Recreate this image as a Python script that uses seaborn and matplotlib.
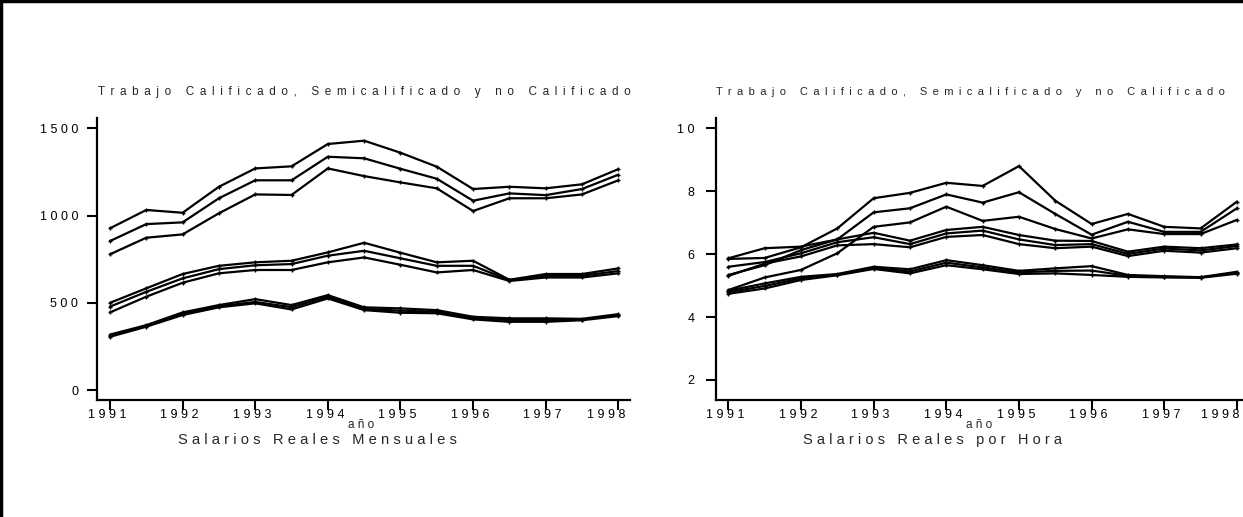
import numpy as np
import pandas as pd
import matplotlib
matplotlib.use("Agg")
import matplotlib.pyplot as plt
import matplotlib.transforms as mtransforms
from matplotlib.lines import Line2D
import seaborn as sns

# Semiannual observations, 1991 to 1998
anios = [1991.0, 1991.5, 1992.0, 1992.5, 1993.0, 1993.5, 1994.0, 1994.5,
         1995.0, 1995.5, 1996.0, 1996.5, 1997.0, 1997.5, 1998.0]

# Monthly real wages (nine series: three per skill level)
mens_calif_1 = [927, 1032, 1016, 1165, 1270, 1282, 1410, 1429, 1360, 1280, 1152, 1165, 1156, 1179, 1266]
mens_calif_2 = [854, 951, 961, 1099, 1202, 1202, 1337, 1328, 1268, 1211, 1085, 1127, 1117, 1152, 1234]
mens_calif_3 = [778, 873, 892, 1013, 1121, 1118, 1270, 1226, 1190, 1156, 1026, 1099, 1099, 1121, 1202]
mens_semi_1 = [500, 583, 665, 712, 732, 741, 789, 844, 787, 732, 741, 632, 665, 665, 697]
mens_semi_2 = [478, 563, 640, 693, 715, 722, 770, 798, 755, 712, 712, 630, 655, 655, 682]
mens_semi_3 = [445, 535, 615, 669, 688, 688, 732, 760, 718, 674, 688, 625, 645, 645, 669]
mens_nocal_1 = [318, 372, 445, 487, 521, 487, 544, 474, 468, 458, 420, 411, 411, 408, 435]
mens_nocal_2 = [312, 367, 437, 480, 505, 475, 535, 465, 455, 449, 412, 401, 401, 404, 429]
mens_nocal_3 = [305, 363, 430, 474, 497, 462, 525, 458, 443, 440, 405, 391, 391, 400, 424]

# Hourly real wages
hora_calif_1 = [5.85, 5.88, 6.22, 6.82, 7.78, 7.95, 8.27, 8.17, 8.80, 7.70, 6.96, 7.28, 6.87, 6.82, 7.67]
hora_calif_2 = [5.34, 5.65, 6.13, 6.47, 7.33, 7.46, 7.90, 7.64, 7.97, 7.28, 6.62, 7.03, 6.71, 6.71, 7.46]
hora_calif_3 = [4.86, 5.26, 5.50, 6.03, 6.87, 7.01, 7.51, 7.06, 7.19, 6.80, 6.50, 6.79, 6.64, 6.64, 7.09]
hora_semi_1 = [5.87, 6.19, 6.24, 6.47, 6.68, 6.43, 6.77, 6.87, 6.61, 6.43, 6.42, 6.08, 6.24, 6.19, 6.31]
hora_semi_2 = [5.60, 5.75, 6.03, 6.38, 6.54, 6.32, 6.66, 6.75, 6.47, 6.29, 6.32, 6.01, 6.18, 6.12, 6.26]
hora_semi_3 = [5.31, 5.70, 5.93, 6.28, 6.32, 6.22, 6.55, 6.61, 6.32, 6.19, 6.24, 5.94, 6.11, 6.05, 6.19]
hora_nocal_1 = [4.84, 5.07, 5.28, 5.37, 5.60, 5.52, 5.81, 5.65, 5.47, 5.55, 5.62, 5.34, 5.30, 5.27, 5.44]
hora_nocal_2 = [4.79, 4.99, 5.23, 5.35, 5.56, 5.45, 5.73, 5.58, 5.42, 5.47, 5.48, 5.31, 5.28, 5.26, 5.41]
hora_nocal_3 = [4.74, 4.91, 5.18, 5.33, 5.53, 5.39, 5.65, 5.52, 5.37, 5.39, 5.34, 5.28, 5.26, 5.25, 5.38]

x_ticks = [1991, 1992, 1993, 1994, 1995, 1996, 1997, 1998]
y_ticks_mens = [0, 500, 1000, 1500]
y_ticks_hora = [2, 4, 6, 8, 10]

titulo = "Trabajo Calificado, Semicalificado y no Calificado"
etiqueta_x = "año"
subtitulo_mens = "Salarios Reales Mensuales"
subtitulo_hora = "Salarios Reales por Hora"


def espaciar(texto, sep=" "):
    """Spread letters apart, the way the old graph engine prints them."""
    return sep.join(texto)


def largo(series):
    frames = []
    for nombre, valores in series.items():
        frames.append(pd.DataFrame({"anio": anios, "valor": valores, "serie": nombre}))
    return pd.concat(frames, ignore_index=True)


df_mens = largo({
    "c1": mens_calif_1, "c2": mens_calif_2, "c3": mens_calif_3,
    "s1": mens_semi_1, "s2": mens_semi_2, "s3": mens_semi_3,
    "n1": mens_nocal_1, "n2": mens_nocal_2, "n3": mens_nocal_3,
})
df_hora = largo({
    "c1": hora_calif_1, "c2": hora_calif_2, "c3": hora_calif_3,
    "s1": hora_semi_1, "s2": hora_semi_2, "s3": hora_semi_3,
    "n1": hora_nocal_1, "n2": hora_nocal_2, "n3": hora_nocal_3,
})

sns.set_theme(style="white")
plt.rcParams["font.family"] = ["Liberation Sans", "DejaVu Sans"]

W, H = 1243, 517
fig = plt.figure(figsize=(W / 100, H / 100), dpi=100)
fig.patch.set_facecolor("white")


def px_axes(x0, x1, y_top, y_bot):
    return fig.add_axes([x0 / W, 1 - y_bot / H, (x1 - x0) / W, (y_bot - y_top) / H])


ax1 = px_axes(97, 630, 118, 400)
ax2 = px_axes(716, 1250, 118, 400)

for ax, df, yt, ylim, xlim, ypad, last_shift in [
    (ax1, df_mens, y_ticks_mens, (-57, 1559), (1990.821, 1998.161), 6, -12),
    (ax2, df_hora, y_ticks_hora, (1.364, 10.33), (1990.83, 1998.18), 8, -17),
]:
    sns.lineplot(data=df, x="anio", y="valor", units="serie", estimator=None,
                 color="black", linewidth=1.6, marker="+", markersize=3.5,
                 markeredgewidth=1.0, markeredgecolor="black", ax=ax,
                 legend=False)
    ax.set_xlim(*xlim)
    ax.set_ylim(*ylim)
    ax.set_xticks(x_ticks)
    ax.set_xticklabels([espaciar(str(t)) for t in x_ticks])
    ax.set_yticks(yt)
    ax.set_yticklabels([espaciar(str(t)) for t in yt])
    ax.set_xlabel("")
    ax.set_ylabel("")
    for s in ["top", "right"]:
        ax.spines[s].set_visible(False)
    for s in ["left", "bottom"]:
        ax.spines[s].set_visible(True)
        ax.spines[s].set_color("black")
        ax.spines[s].set_linewidth(1.6)
    ax.tick_params(axis="both", which="major", direction="out", length=7.5,
                   width=1.5, color="black", labelsize=9, labelcolor="black",
                   left=True, bottom=True)
    ax.tick_params(axis="x", pad=-1)
    ax.tick_params(axis="y", pad=ypad)
    ax.set_facecolor("white")
    ax.grid(False)
    # year labels sit a little left of their ticks; the last one is pushed in
    labels = ax.get_xticklabels()
    for i, lab in enumerate(labels):
        dx = last_shift if i == len(labels) - 1 else -3
        lab.set_transform(lab.get_transform() +
                          mtransforms.ScaledTranslation(dx / 100, 0, fig.dpi_scale_trans))

# Panel titles and captions
sep_titulo = " \u2009"
fig.text(98 / W, 1 - 92 / H, espaciar(titulo, sep_titulo), ha="left", va="center", fontsize=8.5)
fig.text(716 / W, 1 - 92 / H, espaciar(titulo, sep_titulo), ha="left", va="center", fontsize=8.0)
fig.text(361 / W, 1 - 425 / H, espaciar(etiqueta_x), ha="center", va="center", fontsize=8.5)
fig.text(979 / W, 1 - 425 / H, espaciar(etiqueta_x), ha="center", va="center", fontsize=8.5)
fig.text(317 / W, 1 - 440 / H, espaciar(subtitulo_mens), ha="center", va="center", fontsize=10.6)
fig.text(933 / W, 1 - 440 / H, espaciar(subtitulo_hora), ha="center", va="center", fontsize=10.5)

# Frame along the top and left edges of the figure
fig.add_artist(Line2D([0.001, 0.001], [0, 1], transform=fig.transFigure, color="black", linewidth=2.5))
fig.add_artist(Line2D([0, 1], [0.999, 0.999], transform=fig.transFigure, color="black", linewidth=2.5))

fig.savefig("out.png", dpi=100, facecolor="white")
